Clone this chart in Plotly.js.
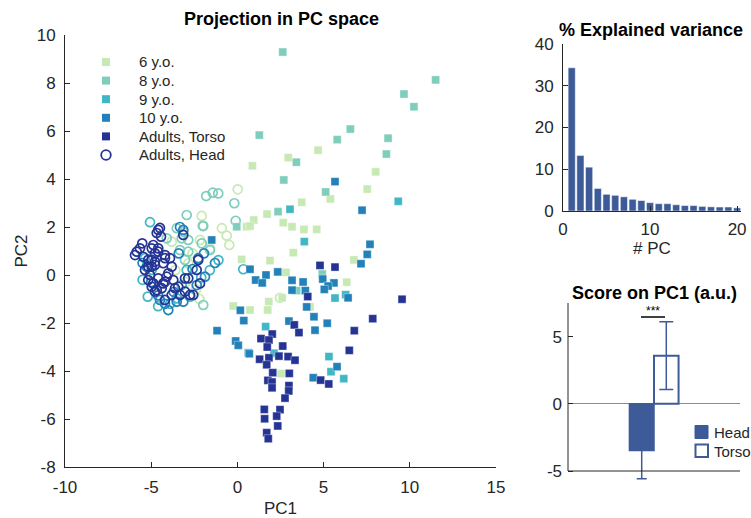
<!DOCTYPE html>
<html>
<head>
<meta charset="utf-8">
<script src="https://cdn.plot.ly/plotly-3.0.1.min.js"></script>
<style>html,body{margin:0;padding:0;background:#fff;}#chart{width:751px;height:518px;}</style>
</head>
<body>
<div id="chart"></div>
<script>
// ---------- DATA ----------
const seriesNames = ['6 y.o.', '8 y.o.', '9 y.o.', '10 y.o.', 'Adults, Torso', 'Adults, Head'];

// Torso (squares)
const torso6X = [0.87,2.95,4.68,8.02,7.53,5.39,3.73,1.72,0.95,0.54,0.73,2.66,3.17,3.86,4.60,3.24,0.25,1.89,6.76,2.82,6.34,2.60,1.82,1.76,0.73,-0.24,4.21,2.53];
const torso6Y = [4.55,4.89,5.20,4.30,3.58,3.17,3.03,2.54,2.29,2.01,2.04,2.18,2.01,1.90,1.90,0.93,0.65,0.60,0.63,0.11,-0.30,-0.95,-1.11,-1.46,-1.46,-1.29,-1.33,-4.11];
const torso8X = [2.63,11.5,9.66,10.24,1.27,6.55,5.79,8.74,8.64,3.42,2.69,5.12,2.36,-0.04,4.92,3.44];
const torso8Y = [9.29,8.13,7.54,7.01,5.83,6.08,5.64,5.70,5.04,4.70,3.96,3.46,2.64,2.01,0.04,-0.65];
const torso9X = [9.33,3.05,3.88,5.66,6.28,1.64,0.63,2.12,5.31,5.43,6.17];
const torso9Y = [3.07,2.74,1.39,-0.96,-0.82,-2.15,-3.24,-3.26,-3.40,-4.03,-4.32];
const torso10X = [5.66,7.23,-1.49,7.69,7.53,7.17,0.73,2.34,1.66,1.06,1.44,4.95,3.17,3.81,5.60,5.26,5.04,3.17,3.94,6.42,4.02,0.17,0.37,4.44,5.21,4.50,-1.18,2.99,-0.10,0.05,0.69,5.78,4.40];
const torso10Y = [3.89,2.70,1.46,1.28,0.86,0.47,0.24,0.13,0.00,-0.21,-0.33,-0.17,-0.22,-0.29,-0.33,-0.46,-0.60,-0.63,-0.65,-0.95,-1.33,-1.47,-1.90,-1.74,-2.01,-2.30,-2.32,-1.92,-2.75,-2.93,-3.28,-3.82,-4.28];
const torsoAdX = [4.79,5.66,4.08,3.30,3.57,7.85,6.78,9.55,2.02,1.37,1.83,1.73,2.63,6.49,2.41,2.94,3.34,1.83,1.29,1.70,4.83,5.30,2.05,3.01,1.77,2.01,2.01,2.99,2.98,2.76,1.56,2.47,1.58,2.28,2.34,1.70,1.79];
const torsoAdY = [0.40,0.33,-0.90,-2.08,-2.40,-1.82,-2.32,-1.01,-2.46,-2.65,-2.71,-3.00,-2.96,-3.14,-3.38,-3.40,-3.55,-3.45,-3.51,-3.74,-4.38,-4.54,-4.07,-4.10,-4.39,-4.46,-4.70,-4.61,-4.83,-5.13,-5.60,-5.61,-5.99,-5.88,-6.29,-6.57,-6.82];

// Head (circles)
const head6X = [0.02,-2.07,-0.62,-0.47,-3.81,2.47,-2.85,-2.60,-2.40,-3.00,-2.17,-1.59,-3.60,-2.20,-0.90];
const head6Y = [3.57,2.46,1.64,1.25,1.39,-0.95,0.49,0.90,-0.60,-0.30,1.46,1.11,0.20,-1.00,1.95];
const head8X = [-1.81,-1.43,-1.11,-0.18,-2.94,-1.98,-3.52,-3.14,-3.23,-2.85,-4.10,-2.07,-1.59,-3.33,-2.85,-3.04,-0.10,-2.01,-1.98];
const head8Y = [3.29,3.43,3.40,2.99,2.50,2.04,1.95,1.80,1.53,1.46,1.53,1.32,1.04,1.04,0.97,0.63,2.26,2.05,-1.25];
const head9X = [-5.07,-5.36,-4.97,-2.94,-3.23,-2.75,-3.52,-1.10,0.34,-5.50,-5.20,-4.60,-2.10,-3.90,-1.60];
const head9Y = [2.20,0.70,0.21,0.21,-0.42,-0.90,-0.97,0.62,0.24,-0.20,-0.90,-1.30,-0.10,-1.20,0.20];
const head10X = [-5.26,-4.60,-4.49,-4.01,-3.52,-3.14,-2.36,-1.88,-4.20,-3.14,-2.27,-1.94,-1.30,-3.33,-5.50,-5.00,-3.70,-2.60,-3.40];
const head10Y = [0.35,-0.85,-1.04,-1.46,-1.11,-1.11,-0.42,-0.07,-1.20,1.88,0.70,0.90,0.50,2.00,0.50,-0.30,-0.70,0.25,0.90];
const headAdX = [-5.84,-5.52,-5.65,-5.46,-5.94,-4.49,-4.68,-4.59,-4.43,-4.88,-4.59,-4.97,-4.78,-4.59,-4.20,-4.20,-4.97,-4.78,-5.17,-4.78,-5.17,-4.97,-5.36,-4.30,-3.91,-3.81,-5.07,-5.17,-4.59,-4.10,-4.01,-4.20,-4.88,-4.30,-3.72,-4.97,-4.39,-4.68,-4.78,-3.43,-3.62,-3.33,-3.81,-4.20,-2.85,-2.75,-2.36,-2.17,-3.14,-2.27,-3.04,-2.56,-3.04];
const headAdY = [0.97,1.32,1.11,0.76,0.83,1.96,1.75,1.88,1.60,1.25,1.11,1.11,0.90,0.97,0.83,0.70,0.63,0.55,0.63,0.42,0.35,0.35,0.21,0.49,0.70,0.35,0.00,-0.21,-0.14,-0.07,0.07,-0.28,-0.35,-0.35,-0.21,-0.49,-0.55,-0.63,-0.69,-0.49,-0.55,-0.83,-0.83,-1.04,-0.14,-0.83,0.21,-0.35,1.67,0.63,-0.14,-0.83,-0.69];

// Explained variance
const pcNumbers = [1,2,3,4,5,6,7,8,9,10,11,12,13,14,15,16,17,18,19,20];
const explainedVar = [34.3,13.3,10.5,5.4,4.0,3.75,3.4,2.8,2.5,2.0,1.75,1.75,1.5,1.3,1.3,1.1,1.0,0.95,0.95,0.75];

// Score on PC1
const scoreGroup = ['PC1'];
const scoreNames = ['Head', 'Torso'];
const headScore = [-3.48];
const headErr = [2.1];
const torsoScore = [3.58];
const torsoErr = [2.52];

// Tick labels
const mainXTicks = [-10,-5,0,5,10,15];
const mainYTicks = [-8,-6,-4,-2,0,2,4,6,8,10];
const varXTicks = [0,10,20];
const varYTicks = [0,10,20,30,40];
const scoreYTicks = [-5,0,5];
const lbl = a => a.map(v => String(v));   // plain hyphen-minus like the original

// ---------- STYLE ----------
const colors = {c6:'#c7e9b4', c8:'#7fcdbb', c9:'#41b6c4', c10:'#2381b9', ad:'#253494'};
const legendColors = [colors.c6, colors.c8, colors.c9, colors.c10, colors.ad, colors.ad];
const barColor = '#3d5b98';
const ink = '#262626';
const FONT = 'Liberation Sans, Arial, Helvetica, sans-serif';
const TICK = 17;

function sq(x, y, color, name) {
  return {type:'scatter', mode:'markers', x:x, y:y, name:name, xaxis:'x', yaxis:'y',
    marker:{symbol:'square', size:8, color:color, line:{width:0.6, color:'rgba(255,255,255,0.6)'}}, showlegend:false};
}
function circ(x, y, color, name) {
  return {type:'scatter', mode:'markers', x:x, y:y, name:name, xaxis:'x', yaxis:'y',
    marker:{symbol:'circle-open', size:9, color:color, line:{width:1.7, color:color}}, showlegend:false};
}

const traces = [
  circ(head6X, head6Y, colors.c6, '6 y.o. head'),
  circ(head8X, head8Y, colors.c8, '8 y.o. head'),
  circ(head9X, head9Y, colors.c9, '9 y.o. head'),
  circ(head10X, head10Y, colors.c10, '10 y.o. head'),
  sq(torso6X, torso6Y, colors.c6, seriesNames[0]),
  sq(torso8X, torso8Y, colors.c8, seriesNames[1]),
  sq(torso9X, torso9Y, colors.c9, seriesNames[2]),
  sq(torso10X, torso10Y, colors.c10, seriesNames[3]),
  sq(torsoAdX, torsoAdY, colors.ad, seriesNames[4]),
  circ(headAdX, headAdY, colors.ad, seriesNames[5]),
  {type:'bar', x:pcNumbers, y:explainedVar, xaxis:'x2', yaxis:'y2', width:0.82,
   marker:{color:barColor, line:{width:0.5, color:'#ffffff'}}, showlegend:false},
  {type:'bar', x:scoreGroup, y:headScore, name:scoreNames[0], xaxis:'x3', yaxis:'y3',
   marker:{color:barColor, line:{width:1.5, color:barColor}},
   error_y:{type:'data', array:headErr, visible:true, color:barColor, thickness:1.5, width:5}, showlegend:false},
  {type:'bar', x:scoreGroup, y:torsoScore, name:scoreNames[1], xaxis:'x3', yaxis:'y3',
   marker:{color:'#ffffff', line:{width:2, color:barColor}},
   error_y:{type:'data', array:torsoErr, visible:true, color:barColor, thickness:1.5, width:7}, showlegend:false}
];

const W = 751, H = 518;
const px = v => v / W, py = v => 1 - v / H;

const axisCommon = {showline:true, linecolor:ink, linewidth:1, ticks:'inside', ticklen:5, tickcolor:ink,
  showgrid:false, zeroline:false, mirror:false, tickfont:{size:TICK, color:ink, family:FONT}};

// score panel geometry: -5 at y=471, 0 at y=404, top (7.5) at 303; extend below so error bar is visible
const scoreBottomVal = -5.7;
const scorePxPerUnit = (471 - 303) / 12.5;
const scoreBottomPx = 471 + (-5 - scoreBottomVal) * scorePxPerUnit;

const shapes = [
  // significance bracket
  {type:'line', xref:'paper', yref:'paper', x0:px(641), x1:px(665), y0:py(317), y1:py(317), line:{color:'#000', width:1.5}},
  // score panel axes (ending at -5, like the original)
  {type:'line', xref:'x3 domain', yref:'y3', x0:0, x1:1, y0:-5, y1:-5, line:{color:ink, width:1}},
  {type:'line', xref:'x3 domain', yref:'y3', x0:0, x1:0, y0:-5, y1:7.5, line:{color:ink, width:1}},
  // score legend swatches
  {type:'rect', xref:'paper', yref:'paper', x0:px(695), x1:px(708), y0:py(438.5), y1:py(425.5), fillcolor:barColor, line:{color:barColor, width:1}},
  {type:'rect', xref:'paper', yref:'paper', x0:px(695.5), x1:px(708), y0:py(457), y1:py(444.5), fillcolor:'#ffffff', line:{color:barColor, width:2}}
];
const annotations = [
  {text:'<b>Projection in PC space</b>', xref:'paper', yref:'paper', x:px(281), y:py(19), showarrow:false,
   font:{size:18, color:'#000', family:FONT}, xanchor:'center', yanchor:'middle'},
  {text:'<b>% Explained variance</b>', xref:'paper', yref:'paper', x:px(651), y:py(30), showarrow:false,
   font:{size:18, color:'#000', family:FONT}, xanchor:'center', yanchor:'middle'},
  {text:'<b>Score on PC1 (a.u.)</b>', xref:'paper', yref:'paper', x:px(654), y:py(293), showarrow:false,
   font:{size:18, color:'#000', family:FONT}, xanchor:'center', yanchor:'middle'},
  {text:'***', xref:'paper', yref:'paper', x:px(653), y:py(311), showarrow:false,
   font:{size:12, color:'#000', family:FONT}, xanchor:'center', yanchor:'middle'},
  {text:scoreNames[0], xref:'paper', yref:'paper', x:px(712), y:py(432), showarrow:false,
   font:{size:15, color:ink, family:FONT}, xanchor:'left', yanchor:'middle'},
  {text:scoreNames[1], xref:'paper', yref:'paper', x:px(712), y:py(451), showarrow:false,
   font:{size:15, color:ink, family:FONT}, xanchor:'left', yanchor:'middle'}
];

// main legend (drawn by hand to match the original's compact spacing)
const legTop = 62, legStep = 18.6, legMarkX = 106, legTextX = 137;
seriesNames.forEach((name, i) => {
  const yc = legTop + i * legStep;
  if (i < 5) {
    shapes.push({type:'rect', xref:'paper', yref:'paper', x0:px(legMarkX - 4), x1:px(legMarkX + 4),
      y0:py(yc + 4), y1:py(yc - 4), fillcolor:legendColors[i], line:{width:0}});
  } else {
    shapes.push({type:'circle', xref:'paper', yref:'paper', x0:px(legMarkX - 4.8), x1:px(legMarkX + 4.8),
      y0:py(yc + 4.8), y1:py(yc - 4.8), fillcolor:'rgba(0,0,0,0)', line:{color:legendColors[i], width:1.8}});
  }
  annotations.push({text:name, xref:'paper', yref:'paper', x:px(legTextX), y:py(yc), showarrow:false,
    xanchor:'left', yanchor:'middle', font:{size:15, color:ink, family:FONT}});
});

const layout = {
  width:W, height:H, margin:{l:0, r:0, t:0, b:0},
  paper_bgcolor:'#ffffff', plot_bgcolor:'#ffffff',
  font:{family:FONT, size:15, color:ink},
  barmode:'group', bargap:0.2, bargroupgap:0,
  showlegend:false,
  xaxis:Object.assign({}, axisCommon, {domain:[px(65), px(496)], range:[-10, 15], tickvals:mainXTicks, ticktext:lbl(mainXTicks),
    anchor:'y', ticklabelstandoff:5, title:{text:'PC1', font:{size:17, color:ink}, standoff:6}}),
  yaxis:Object.assign({}, axisCommon, {domain:[py(467), py(35)], range:[-8, 10], tickvals:mainYTicks, ticktext:lbl(mainYTicks),
    anchor:'x', ticklabelstandoff:5, title:{text:'PC2', font:{size:17, color:ink}, standoff:4}}),
  xaxis2:Object.assign({}, axisCommon, {domain:[px(563), px(741)], range:[0, 20.45], tickvals:varXTicks, ticktext:lbl(varXTicks),
    anchor:'y2', ticklabelstandoff:3, title:{text:'# PC', font:{size:17, color:ink}, standoff:2}}),
  yaxis2:Object.assign({}, axisCommon, {domain:[py(211), py(44)], range:[0, 40], tickvals:varYTicks, ticktext:lbl(varYTicks),
    anchor:'x2', ticklabelstandoff:5}),
  xaxis3:{domain:[px(568), px(740)], type:'category', range:[-1.4, 1.4], anchor:'y3', showline:false,
    ticks:'', showticklabels:false, showgrid:false, zeroline:false},
  yaxis3:Object.assign({}, axisCommon, {domain:[py(scoreBottomPx), py(303)], range:[scoreBottomVal, 7.5], showline:false,
    tickvals:scoreYTicks, ticktext:lbl(scoreYTicks), anchor:'x3', ticklabelstandoff:5,
    zeroline:true, zerolinecolor:'#8c8c8c', zerolinewidth:1}),
  annotations:annotations,
  shapes:shapes
};

Plotly.newPlot('chart', traces, layout, {staticPlot:true, displayModeBar:false});
</script>
</body>
</html>
